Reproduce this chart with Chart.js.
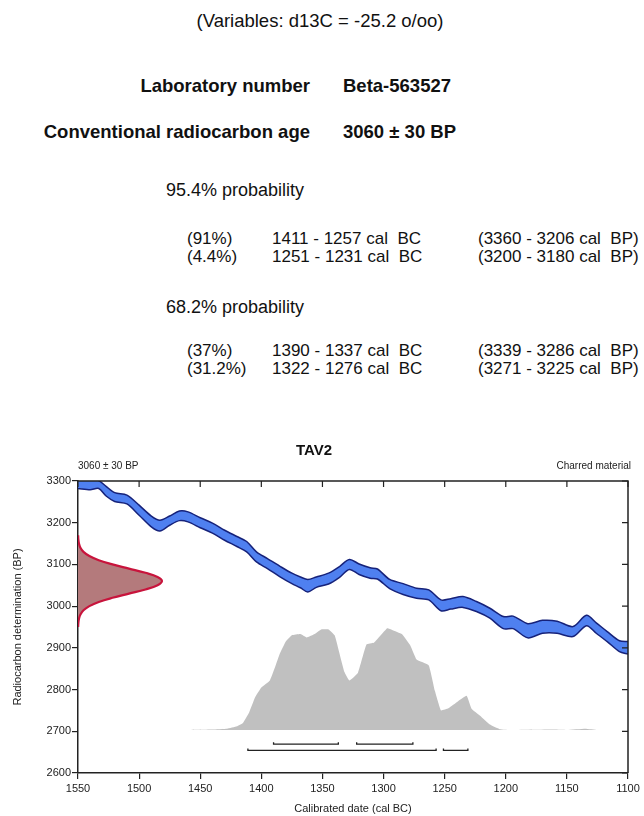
<!DOCTYPE html>
<html><head><meta charset="utf-8">
<script src="https://cdn.jsdelivr.net/npm/chart.js@4.4.1/dist/chart.umd.min.js"></script>
<style>
html,body{margin:0;padding:0;background:#fff;}
body{width:644px;height:816px;position:relative;overflow:hidden;font-family:"Liberation Sans",Arial,sans-serif;color:#111;}
.t{position:absolute;white-space:pre;line-height:1;}
.b{font-weight:bold;}
#wrap{position:absolute;left:0;top:430px;width:644px;height:386px;}
</style></head><body>
<div class="t" style="left:0;width:640px;text-align:center;top:12px;font-size:18.5px">(Variables: d13C = -25.2 o/oo)</div>
<div class="t b" style="right:334px;top:77px;font-size:18.5px">Laboratory number</div>
<div class="t b" style="left:343px;top:77px;font-size:18.5px">Beta-563527</div>
<div class="t b" style="right:334px;top:123px;font-size:18.5px">Conventional radiocarbon age</div>
<div class="t b" style="left:343px;top:123px;font-size:18.5px">3060 ± 30 BP</div>
<div class="t" style="left:166px;top:181px;font-size:18px">95.4% probability</div>
<div class="t" style="left:187px;top:230px;font-size:17px">(91%)</div>
<div class="t" style="left:272px;top:230px;font-size:17px">1411 - 1257 cal  BC</div>
<div class="t" style="left:478px;top:230px;font-size:17px">(3360 - 3206 cal  BP)</div>
<div class="t" style="left:187px;top:248px;font-size:17px">(4.4%)</div>
<div class="t" style="left:272px;top:248px;font-size:17px">1251 - 1231 cal  BC</div>
<div class="t" style="left:478px;top:248px;font-size:17px">(3200 - 3180 cal  BP)</div>
<div class="t" style="left:166px;top:298px;font-size:18px">68.2% probability</div>
<div class="t" style="left:187px;top:342px;font-size:17px">(37%)</div>
<div class="t" style="left:272px;top:342px;font-size:17px">1390 - 1337 cal  BC</div>
<div class="t" style="left:478px;top:342px;font-size:17px">(3339 - 3286 cal  BP)</div>
<div class="t" style="left:187px;top:360px;font-size:17px">(31.2%)</div>
<div class="t" style="left:272px;top:360px;font-size:17px">1322 - 1276 cal  BC</div>
<div class="t" style="left:478px;top:360px;font-size:17px">(3271 - 3225 cal  BP)</div>
<div id="wrap"><canvas id="c" width="644" height="386"></canvas></div>
<div class="t" style="left:78px;top:461px;font-size:10px;color:#222">3060 ± 30 BP</div>
<div class="t" style="right:13px;top:461px;font-size:10px;color:#222">Charred material</div>
<script>
// Calibration curve band: calendar years BC with upper and lower BP bounds
const curveYears = [1550,1540,1533,1527,1520,1510,1500,1490,1483,1475,1467,1460,1450,1440,1430,1420,1412,1404,1395,1385,1375,1368,1362,1355,1345,1336,1328,1320,1311,1305,1295,1284,1273,1263,1253,1245,1235,1224,1213,1202,1194,1182,1170,1158,1145,1134,1126,1117,1107,1100];
const curveUpper = [3303,3305,3301,3287,3272,3266,3242,3216,3206,3216,3228,3226,3212,3199,3182,3167,3155,3130,3114,3096,3079,3070,3064,3070,3079,3095,3112,3101,3092,3089,3064,3054,3043,3039,3015,3018,3023,3011,2995,2975,2976,2958,2966,2964,2951,2978,2960,2939,2917,2915];
const curveLower = [3282,3279,3282,3264,3251,3245,3218,3190,3180,3194,3205,3202,3188,3175,3158,3143,3130,3106,3090,3071,3054,3044,3034,3045,3053,3069,3088,3076,3067,3065,3042,3028,3019,3015,2989,2993,2997,2987,2971,2946,2946,2924,2935,2935,2927,2953,2935,2915,2891,2885];
// Calibrated probability distribution (drawn above baseline)
const probYears = [1490,1460,1440,1428,1420,1415,1410,1405,1400,1393,1388,1385,1380,1375,1368,1363,1356,1351,1345,1340,1336,1332,1328,1321,1314,1308,1297,1293,1285,1278,1273,1263,1258,1253,1247,1239,1232,1228,1221,1213,1205,1195,1160,1150,1135,1125,1105];
const probBP    = [2703,2703,2704,2706,2712,2720,2745,2782,2805,2822,2860,2885,2915,2930,2933,2925,2934,2944,2944,2930,2886,2842,2822,2840,2908,2912,2947,2943,2933,2905,2872,2858,2797,2750,2755,2772,2785,2754,2737,2716,2705,2703,2704,2703,2706,2703,2703];
// Radiocarbon measurement distribution (3060 ± 30 BP) along the BP axis
const dateBP     = [3170,3160,3150,3140,3130,3120,3110,3100,3090,3080,3070,3060,3050,3040,3030,3020,3010,3000,2990,2980,2970,2960,2950];
const dateSpread = [0.1,0.3,0.8,2.0,4.5,9.3,17.0,28.2,41.7,55.2,65.1,68.7,65.1,55.2,41.7,28.2,17.0,9.3,4.5,2.0,0.8,0.3,0.1];
// Calibrated ranges
const range68 = [[1390,1337],[1322,1276]];
const range95 = [[1411,1257],[1251,1231]];
// Tick labels
const xTicks = [1550,1500,1450,1400,1350,1300,1250,1200,1150,1100];
const yTicks = [3300,3200,3100,3000,2900,2800,2700,2600];

const FONT = "'Liberation Sans', Arial, sans-serif";
const probBase = 2703;
const level68 = 2669, level95 = 2654, bracketTick = 5;
const dateOrigin = 1550;

function bracketPoints(ranges, level){
  const pts = [];
  ranges.forEach(([a,b]) => {
    pts.push({x:a,y:level+bracketTick},{x:a,y:level},{x:b,y:level},{x:b,y:level+bracketTick},{x:b,y:null});
  });
  return pts;
}

const frame = {
  id:'frame',
  afterDatasetsDraw(chart){
    const {ctx, chartArea:{left,right,top,bottom}, scales:{x,y}} = chart;
    ctx.save();
    ctx.strokeStyle = '#222';
    ctx.lineWidth = 1.5;
    ctx.beginPath();
    ctx.moveTo(left, top); ctx.lineTo(right, top); ctx.lineTo(right, bottom);
    ctx.stroke();
    ctx.lineWidth = 1.2;
    ctx.beginPath();
    x.ticks.forEach(t => { const px = x.getPixelForValue(t.value); ctx.moveTo(px, top); ctx.lineTo(px, top+6); });
    y.ticks.forEach(t => { const py = y.getPixelForValue(t.value); ctx.moveTo(right, py); ctx.lineTo(right-6, py); });
    ctx.stroke();
    ctx.restore();
  }
};

new Chart(document.getElementById('c'), {
  type:'line',
  data:{
    datasets:[
      { label:'date', data: dateBP.map((b,i)=>({x:dateOrigin - dateSpread[i], y:b})),
        borderColor:'#c8143c', borderWidth:2.2, backgroundColor:'#b47a7c', fill:'shape', tension:0.4, pointRadius:0 },
      { label:'upper', data: curveYears.map((yr,i)=>({x:yr,y:curveUpper[i]})),
        borderColor:'#16227a', borderWidth:1.5, fill:false, tension:0.3, pointRadius:0 },
      { label:'lower', data: curveYears.map((yr,i)=>({x:yr,y:curveLower[i]})),
        borderColor:'#16227a', borderWidth:1.5, backgroundColor:'#4f80f0', fill:'-1', tension:0.3, pointRadius:0 },
      { label:'r68', data: bracketPoints(range68, level68), borderColor:'#222', borderWidth:1.3, fill:false, tension:0, pointRadius:0, spanGaps:false },
      { label:'r95', data: bracketPoints(range95, level95), borderColor:'#222', borderWidth:1.3, fill:false, tension:0, pointRadius:0, spanGaps:false },
      { label:'prob', data: probYears.map((yr,i)=>({x:yr,y:probBP[i]})),
        borderWidth:0, borderColor:'rgba(0,0,0,0)', backgroundColor:'#c0c0c0', fill:{value:probBase}, tension:0.1, pointRadius:0 }
    ]
  },
  options:{
    responsive:false, animation:false,
    layout:{padding:{left:0,right:16,top:0,bottom:0}},
    plugins:{
      legend:{display:false}, tooltip:{enabled:false},
      title:{display:true, text:'TAV2', color:'#111', font:{family:FONT,size:15,weight:'bold'}, padding:{top:12,bottom:21}}
    },
    scales:{
      x:{ type:'linear', reverse:true, min:1100, max:1550,
        afterBuildTicks: s => { s.ticks = xTicks.map(v=>({value:v})); },
        afterFit: s => { s.height = 43; },
        ticks:{ color:'#222', font:{family:FONT,size:11}, padding:3, maxRotation:0, autoSkip:false, callback: v => String(v) },
        grid:{ drawOnChartArea:false, drawTicks:true, tickLength:6, color:'#222', lineWidth:1.2 },
        border:{ color:'#222', width:1.5 },
        title:{ display:true, text:'Calibrated date (cal BC)', color:'#222', font:{family:FONT,size:11}, padding:{top:0,bottom:0} }
      },
      y:{ type:'linear', min:2600, max:3300,
        afterBuildTicks: s => { s.ticks = yTicks.map(v=>({value:v})); },
        afterFit: s => { s.width = 78; },
        ticks:{ color:'#222', font:{family:FONT,size:11}, padding:1, autoSkip:false, callback: v => String(v) },
        grid:{ drawOnChartArea:false, drawTicks:true, tickLength:6, color:'#222', lineWidth:1.2 },
        border:{ color:'#222', width:1.5 },
        title:{ display:true, text:'Radiocarbon determination (BP)', color:'#222', font:{family:FONT,size:11}, padding:{top:11,bottom:0} }
      }
    }
  },
  plugins:[frame]
});
</script>
</body></html>
